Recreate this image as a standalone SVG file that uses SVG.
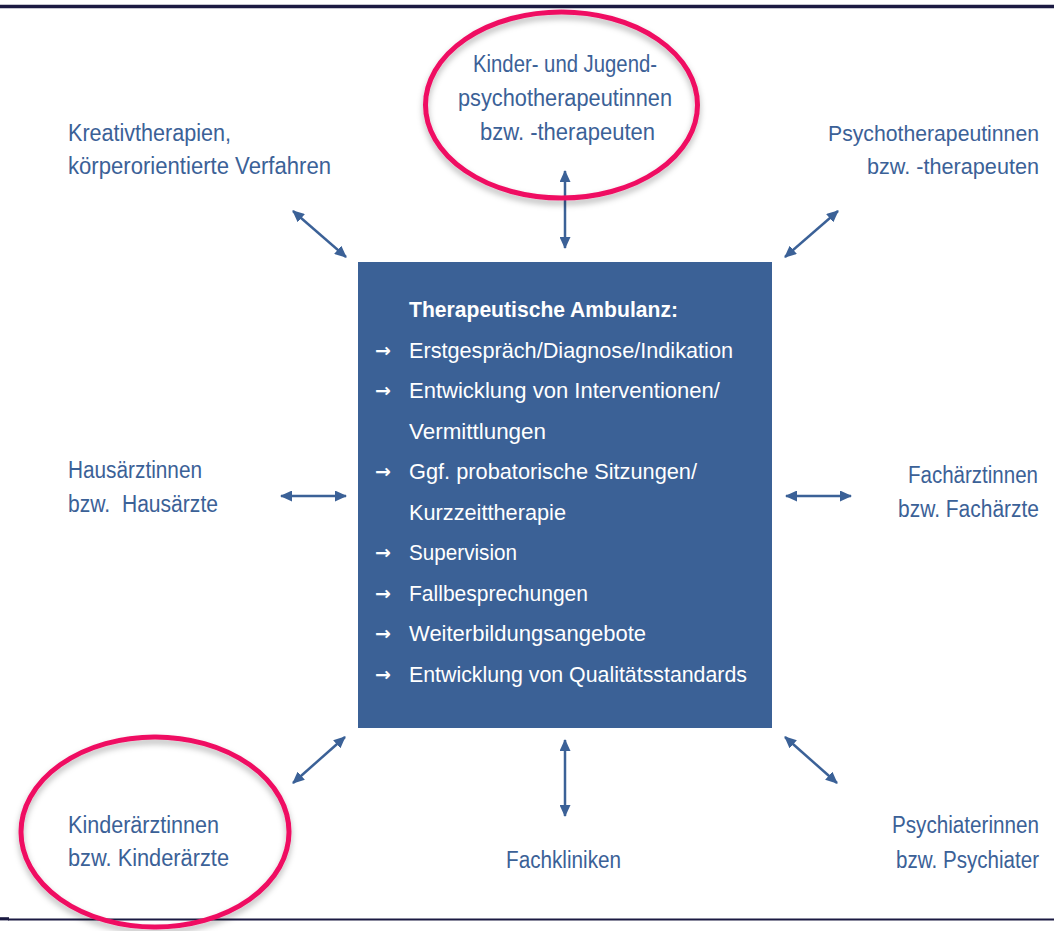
<svg xmlns="http://www.w3.org/2000/svg" width="1054" height="931" viewBox="0 0 1054 931">
  <style>
    .lbl { font-family: "Liberation Sans", Arial, sans-serif; font-size: 23px; fill: #3b6197; }
    .rt { font-size: 22px; }
    .box { font-family: "Liberation Sans", Arial, sans-serif; font-size: 22px; fill: #ffffff; }
    .hd { font-weight: bold; }
    .arr { font-family: "DejaVu Sans", "Liberation Sans", sans-serif; font-size: 19px; fill: #ffffff; font-weight: bold; }
    .conn { stroke: #3b6197; stroke-width: 2.5; fill: none; marker-start: url(#ah); marker-end: url(#ah); }
    .ring { fill: none; stroke: #ef0f62; stroke-width: 5; filter: url(#sh); }
    .rule { stroke: #1b1a42; }
  </style>
  <defs>
    <marker id="ah" viewBox="0 0 12 11" refX="11" refY="5.5" markerWidth="12" markerHeight="11" markerUnits="userSpaceOnUse" orient="auto-start-reverse">
      <path d="M0,0 L12,5.5 L0,11 z" fill="#3b6197"/>
    </marker>
    <filter id="sh" x="-10%" y="-10%" width="120%" height="125%">
      <feDropShadow dx="0" dy="4" stdDeviation="3" flood-color="#000" flood-opacity="0.3"/>
    </filter>
  </defs>
  <rect width="1054" height="931" fill="#ffffff"/>
  <line class="rule" x1="0" y1="6.5" x2="1054" y2="6.5" stroke-width="3.5"/>
  <line class="rule" x1="8" y1="919.5" x2="1054" y2="919.5" stroke-width="2"/>
  <line class="rule" x1="0" y1="918.8" x2="9" y2="918.8" stroke-width="3.2"/>

  <g id="connectors">
    <line class="conn" x1="293" y1="211" x2="346" y2="257"/>
    <line class="conn" x1="565" y1="171" x2="565" y2="248"/>
    <line class="conn" x1="838" y1="211" x2="785" y2="257"/>
    <line class="conn" x1="281" y1="496" x2="346" y2="496"/>
    <line class="conn" x1="786" y1="496" x2="851" y2="496"/>
    <line class="conn" x1="345" y1="737" x2="293" y2="783"/>
    <line class="conn" x1="565" y1="740" x2="565" y2="816"/>
    <line class="conn" x1="785" y1="737" x2="837" y2="783"/>
  </g>

  <g id="ambulanz">
    <rect x="358" y="262" width="414" height="466" fill="#3b6196"/>
    <text class="box hd" x="409" y="317" textLength="269" lengthAdjust="spacingAndGlyphs">Therapeutische Ambulanz:</text>
    <text class="arr" x="375" y="357">→</text>
    <text class="box" x="409" y="358" textLength="324" lengthAdjust="spacingAndGlyphs">Erstgespräch/Diagnose/Indikation</text>
    <text class="arr" x="375" y="397">→</text>
    <text class="box" x="409" y="398" textLength="311" lengthAdjust="spacingAndGlyphs">Entwicklung von Interventionen/</text>
    <text class="box" x="409" y="439" textLength="137" lengthAdjust="spacingAndGlyphs">Vermittlungen</text>
    <text class="arr" x="375" y="478">→</text>
    <text class="box" x="409" y="479" textLength="288" lengthAdjust="spacingAndGlyphs">Ggf. probatorische Sitzungen/</text>
    <text class="box" x="409" y="520" textLength="157" lengthAdjust="spacingAndGlyphs">Kurzzeittherapie</text>
    <text class="arr" x="375" y="559">→</text>
    <text class="box" x="409" y="560" textLength="108" lengthAdjust="spacingAndGlyphs">Supervision</text>
    <text class="arr" x="375" y="600">→</text>
    <text class="box" x="409" y="601" textLength="179" lengthAdjust="spacingAndGlyphs">Fallbesprechungen</text>
    <text class="arr" x="375" y="640">→</text>
    <text class="box" x="409" y="641" textLength="237" lengthAdjust="spacingAndGlyphs">Weiterbildungsangebote</text>
    <text class="arr" x="375" y="681">→</text>
    <text class="box" x="409" y="682" textLength="338" lengthAdjust="spacingAndGlyphs">Entwicklung von Qualitätsstandards</text>
  </g>

  <g id="kjp">
    <ellipse class="ring" cx="561.5" cy="105" rx="136" ry="93"/>
    <text class="lbl" x="565" y="72" text-anchor="middle" textLength="184" lengthAdjust="spacingAndGlyphs">Kinder- und Jugend-</text>
    <text class="lbl" x="565" y="106" text-anchor="middle" textLength="214" lengthAdjust="spacingAndGlyphs">psychotherapeutinnen</text>
    <text class="lbl" x="567.5" y="140" text-anchor="middle" textLength="175" lengthAdjust="spacingAndGlyphs">bzw. -therapeuten</text>
  </g>

  <g id="kreativ">
    <text class="lbl" x="68" y="141" textLength="163" lengthAdjust="spacingAndGlyphs">Kreativtherapien,</text>
    <text class="lbl" x="68" y="174" textLength="263" lengthAdjust="spacingAndGlyphs">körperorientierte Verfahren</text>
  </g>

  <g id="psychotherapeuten">
    <text class="lbl rt" x="828" y="141" textLength="211" lengthAdjust="spacingAndGlyphs">Psychotherapeutinnen</text>
    <text class="lbl rt" x="867" y="174" textLength="172" lengthAdjust="spacingAndGlyphs">bzw. -therapeuten</text>
  </g>

  <g id="hausaerzte">
    <text class="lbl" x="68" y="478" textLength="134" lengthAdjust="spacingAndGlyphs">Hausärztinnen</text>
    <text class="lbl" x="68" y="512" textLength="150" lengthAdjust="spacingAndGlyphs" xml:space="preserve">bzw.  Hausärzte</text>
  </g>

  <g id="fachaerzte">
    <text class="lbl" x="908" y="483" textLength="130" lengthAdjust="spacingAndGlyphs">Fachärztinnen</text>
    <text class="lbl" x="898" y="517" textLength="141" lengthAdjust="spacingAndGlyphs">bzw. Fachärzte</text>
  </g>

  <g id="kinderaerzte">
    <ellipse class="ring" cx="155" cy="832" rx="134" ry="95"/>
    <text class="lbl" x="68" y="833" textLength="151" lengthAdjust="spacingAndGlyphs">Kinderärztinnen</text>
    <text class="lbl" x="68" y="866" textLength="161" lengthAdjust="spacingAndGlyphs">bzw. Kinderärzte</text>
  </g>

  <g id="fachkliniken">
    <text class="lbl" x="563.5" y="868" text-anchor="middle" textLength="115" lengthAdjust="spacingAndGlyphs">Fachkliniken</text>
  </g>

  <g id="psychiater">
    <text class="lbl" x="892" y="833" textLength="147" lengthAdjust="spacingAndGlyphs">Psychiaterinnen</text>
    <text class="lbl" x="896" y="868" textLength="143" lengthAdjust="spacingAndGlyphs">bzw. Psychiater</text>
  </g>
</svg>
